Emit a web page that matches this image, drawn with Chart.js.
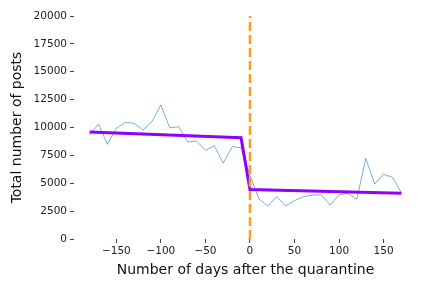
<!DOCTYPE html>
<html>
<head>
<meta charset="utf-8">
<script src="https://cdn.jsdelivr.net/npm/chart.js@4"></script>
<style>
  html, body { margin: 0; padding: 0; background: #fff; }
  #wrap { width: 432px; height: 288px; }
</style>
</head>
<body>
<div id="wrap"><canvas id="postsChart"></canvas></div>
<script>
// days relative to the quarantine start
const days = [-180, -170, -160, -150, -140, -130, -120, -110, -100, -90,
              -80, -70, -60, -50, -40, -30, -20, -10, 0, 10,
              20, 30, 40, 50, 60, 70, 80, 90, 100, 110,
              120, 130, 140, 150, 160, 170];
// total posts per period
const totalPosts = [9330, 10310, 8490, 9930, 10470, 10380, 9780, 10520, 12020, 9970,
                    10070, 8700, 8790, 7960, 8370, 6790, 8280, 8190, 5740, 3590,
                    2960, 3790, 2960, 3440, 3790, 3950, 3950, 3050, 3950, 4100,
                    3560, 7240, 4930, 5800, 5530, 4150];
// segmented fit: before / after quarantine
const fitDays = [-180, -10, 0, 170];
const fitValues = [9600, 9090, 4440, 4100];
// vertical marker at day 0
const markerDays = [0, 0];
const markerValues = [0, 20000];

const xTicks = [-150, -100, -50, 0, 50, 100, 150];
const yMin = 0, yMax = 20000, yStep = 2500;
const xMin = -197.5, xMax = 187.5;

function toPoints(xs, ys) {
    return xs.map((x, i) => ({ x: x, y: ys[i] }));
}

const fmt = v => (v < 0 ? '\u2212' + Math.abs(v) : String(v));

const ctx = document.getElementById('postsChart');

new Chart(ctx, {
    type: 'line',
    data: {
        datasets: [
            {
                label: 'quarantine',
                data: toPoints(markerDays, markerValues),
                borderColor: '#ff9c18',
                borderWidth: 2.5,
                borderDash: [9, 4],
                pointRadius: 0
            },
            {
                label: 'fit',
                data: toPoints(fitDays, fitValues),
                borderColor: '#9000ff',
                borderWidth: 3,
                pointRadius: 0
            },
            {
                label: 'posts',
                data: toPoints(days, totalPosts),
                borderColor: '#1f77b4',
                borderWidth: 0.6,
                pointRadius: 0
            }
        ]
    },
    options: {
        responsive: true,
        maintainAspectRatio: false,
        animation: false,
        layout: { padding: { top: 16, right: 15, left: 9, bottom: 9 } },
        plugins: {
            legend: { display: false },
            tooltip: { enabled: false }
        },
        scales: {
            x: {
                type: 'linear',
                min: xMin,
                max: xMax,
                afterBuildTicks: axis => {
                    axis.ticks = xTicks.map(v => ({ value: v }));
                },
                afterFit: axis => { axis.height = 40; },
                border: { display: false },
                grid: { drawOnChartArea: false, drawTicks: true, tickLength: 4, color: '#444' },
                ticks: {
                    color: '#222',
                    font: { family: 'DejaVu Sans', size: 10.5 },
                    padding: 2,
                    maxRotation: 0,
                    callback: v => fmt(v)
                },
                title: {
                    display: true,
                    text: 'Number of days after the quarantine',
                    color: '#111',
                    font: { family: 'DejaVu Sans', size: 14 },
                    padding: { top: 2, bottom: 0 }
                }
            },
            y: {
                min: yMin,
                max: yMax,
                afterFit: axis => { axis.width = 65; },
                border: { display: false },
                grid: { drawOnChartArea: false, drawTicks: true, tickLength: 4, color: '#444' },
                ticks: {
                    stepSize: yStep,
                    color: '#222',
                    font: { family: 'DejaVu Sans', size: 10.5 },
                    padding: 3,
                    callback: v => fmt(v)
                },
                title: {
                    display: true,
                    text: 'Total number of posts',
                    color: '#111',
                    font: { family: 'DejaVu Sans', size: 14 },
                    padding: { top: 0, bottom: 4 }
                }
            }
        }
    }
});
</script>
</body>
</html>
